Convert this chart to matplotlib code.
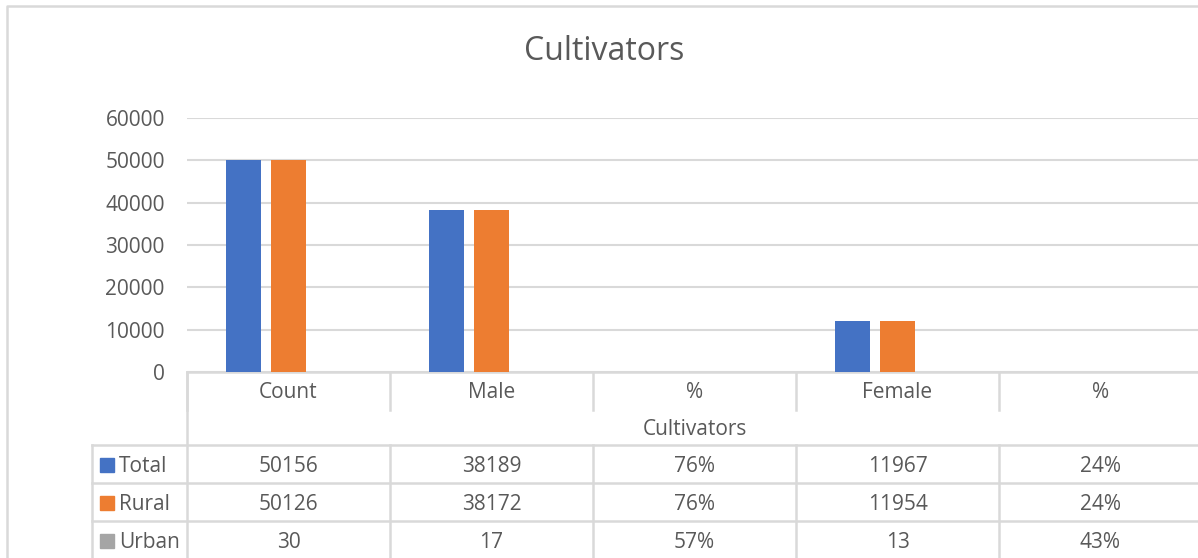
import numpy as np
import matplotlib.pyplot as plt
from matplotlib import transforms

plt.rcParams['font.family'] = ['Open Sans', 'DejaVu Sans']

categories = ['Count', 'Male', '%', 'Female', '%']
is_pct = [False, False, True, False, True]
series_names = ['Total', 'Rural', 'Urban']
total = [50156, 38189, 0.76, 11967, 0.24]
rural = [50126, 38172, 0.76, 11954, 0.24]
urban = [30, 17, 0.57, 13, 0.43]
colors = ['#4472C4', '#ED7D31', '#A5A5A5']
y_ticks = [0, 10000, 20000, 30000, 40000, 50000, 60000]

W, H = 1198, 558
grid_col = '#d9d9d9'
text_col = '#595959'

fig = plt.figure(figsize=(W / 100, H / 100), dpi=100)

# overlay in pixel coords (y down) for the table and border
ov = fig.add_axes([0, 0, 1, 1])
ov.set_xlim(0, W)
ov.set_ylim(H, 0)
ov.axis('off')

ax = fig.add_axes([187 / W, (H - 372) / H, 1015 / W, 254 / H])
x = np.arange(len(categories))
width = 0.172
step = 0.221
all_series = [total, rural, urban]
for i, (vals, c) in enumerate(zip(all_series, colors)):
    ax.bar(x + (i - 1) * step, vals, width, color=c, zorder=3)

ax.set_xlim(-0.5, len(categories) - 0.5)
ax.set_ylim(0, 60000)
ax.set_yticks(y_ticks)
ax.set_yticklabels([str(t) for t in y_ticks], fontsize=15, color=text_col)
ax.tick_params(axis='y', length=0, pad=16)
ax.set_xticks([])
ax.yaxis.grid(True, color=grid_col, linewidth=1.5, zorder=0)
for s in ax.spines.values():
    s.set_visible(False)

# x in category units, y in pixels
bt = transforms.blended_transform_factory(ax.transData, ov.transData)
lw = 1.8

top, hdr, sub = 372, 410, 445
row_h = 38
bottom = sub + row_h * len(series_names)
xl = -0.5
xr = len(categories) - 0.5

# header row
ov.plot([xl, xr], [top, top], color=grid_col, lw=lw, transform=bt, clip_on=False)
for k in range(len(categories)):
    ov.plot([k - 0.5, k - 0.5], [top, hdr], color=grid_col, lw=lw, transform=bt, clip_on=False)
    ov.text(k, (top + hdr) / 2 + 2, categories[k], ha='center', va='center',
            fontsize=15, color=text_col, transform=bt)
ov.plot([xl, xl], [top, bottom + 5], color=grid_col, lw=lw, transform=bt, clip_on=False)
ov.text((xl + xr) / 2, (hdr + sub) / 2 + 2, 'Cultivators', ha='center', va='center',
        fontsize=15, color=text_col, transform=bt)

# data rows
key_x0 = 92
for r in range(len(series_names) + 1):
    y = sub + r * row_h
    ov.plot([key_x0, W + 5], [y, y], color=grid_col, lw=lw, clip_on=False)
ov.plot([key_x0, key_x0], [sub, bottom + 5], color=grid_col, lw=lw, clip_on=False)
for k in range(1, len(categories)):
    ov.plot([k - 0.5, k - 0.5], [sub, bottom + 5], color=grid_col, lw=lw, transform=bt, clip_on=False)

for r, (name, vals, c) in enumerate(zip(series_names, all_series, colors)):
    yc = sub + r * row_h + row_h / 2
    ov.add_patch(plt.Rectangle((100, yc - 6), 14, 14, color=c))
    ov.text(119, yc + 2, name, ha='left', va='center', fontsize=15, color=text_col)
    for k, v in enumerate(vals):
        lab = '{:.0%}'.format(v) if is_pct[k] else str(v)
        ov.text(k, yc + 2, lab, ha='center', va='center', fontsize=15, color=text_col, transform=bt)

# chart border
ov.plot([7, 7, W + 5], [H + 5, 6, 6], color=grid_col, lw=lw, clip_on=False)

fig.text(604 / W, 1 - 52 / H, 'Cultivators', ha='center', va='center', fontsize=23, color=text_col)

fig.savefig('out.png', dpi=100)
